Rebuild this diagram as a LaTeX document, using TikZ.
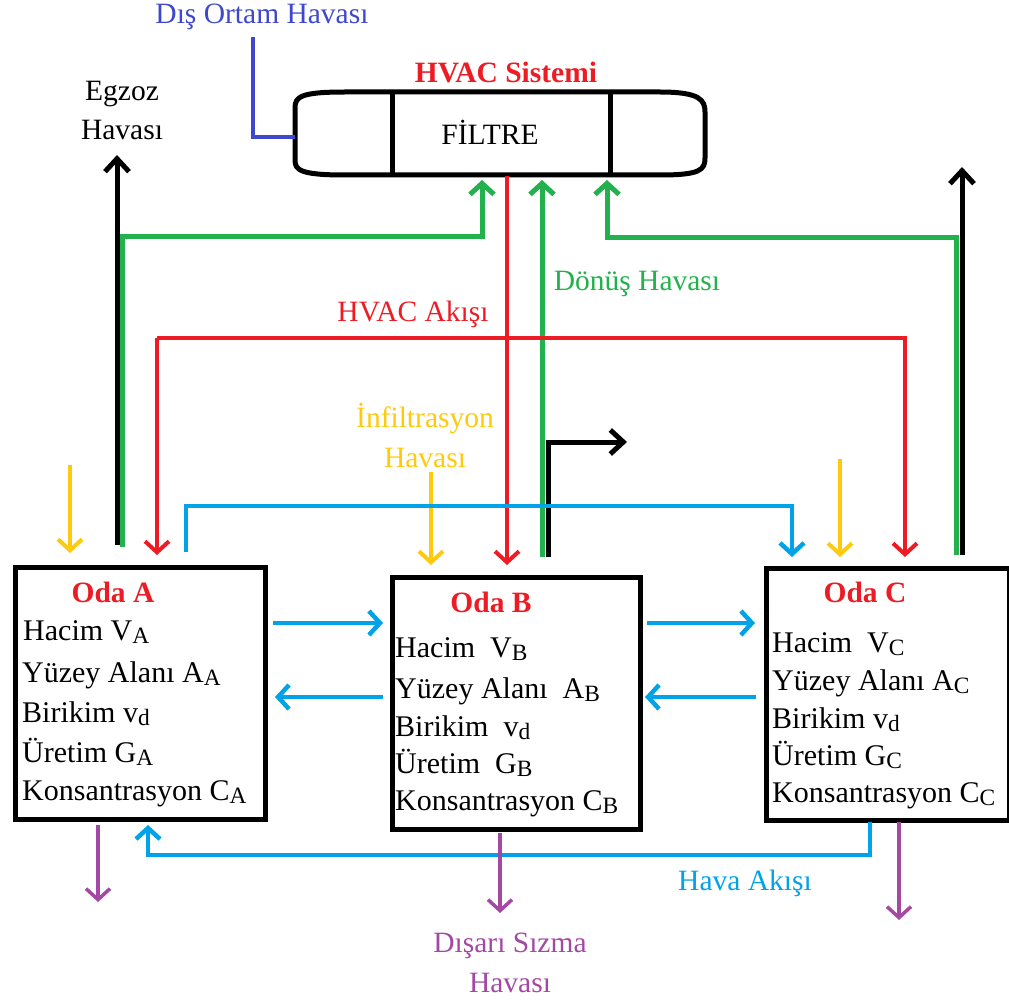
\documentclass[tikz,border=0pt]{standalone}
\usepackage{fontspec}
\setmainfont{Liberation Serif}
\usetikzlibrary{arrows.meta}
\definecolor{hred}{HTML}{ED1C24}
\definecolor{hgreen}{HTML}{22B14C}
\definecolor{hblue}{HTML}{00A2E8}
\definecolor{hyellow}{HTML}{FFC90E}
\definecolor{hpurple}{HTML}{A349A4}
\definecolor{hnavy}{HTML}{3F48CC}
\newcommand{\sbs}[1]{\raisebox{-0.25ex}{\scalebox{0.78}{#1}}}
\begin{document}
\begin{tikzpicture}[x=1pt,y=-1pt,
  every node/.style={font=\fontsize{29.5}{35}\selectfont, inner sep=0pt},
  tip/.style={-{Straight Barb[length=11pt,width=24pt]}},
  roombox/.style={draw=black, line width=5pt, fill=white, anchor=north west, minimum width=#1},
  boxline/.style={anchor=base west, font=\fontsize{30}{35}\selectfont},
  title/.style={font=\fontsize{29.5}{35}\selectfont\bfseries, text=hred},
  blueline/.style={draw=hblue, line width=4.5pt},
  redline/.style={draw=hred, line width=4pt},
  greenline/.style={draw=hgreen, line width=5pt},
  blackline/.style={draw=black, line width=5pt},
  yellowline/.style={draw=hyellow, line width=4pt},
  purpleline/.style={draw=hpurple, line width=3.5pt}
]
\useasboundingbox (0,0) rectangle (1009,1003);

% HVAC unit
\draw[line width=5pt] (345,92) -- (660,92) .. controls (700,92) and (705,100) .. (705,112) -- (705,158) .. controls (705,170) and (700,175) .. (660,175) -- (345,175) .. controls (300,175) and (295,170) .. (295,160) -- (295,108) .. controls (295,97) and (300,92) .. (345,92) -- cycle;
\draw[line width=5pt] (392,92) -- (392,175);
\draw[line width=5pt] (610,92) -- (610,175);
\node (filtre) at (490,132) {FİLTRE};
\node[title] (hvac) at (506,72) {HVAC Sistemi};
\coordinate (hvacL) at (295,137);

% outdoor air
\node[text=hnavy] (dis) at (262,17) {Dış Ortam Havası};
\coordinate (d1) at (253,37);
\draw[draw=hnavy, line width=4pt] (d1) -- (253,137) -- (hvacL);

% exhaust labels
\node (egz1) at (122,94) {Egzoz};
\node (egz2) at (122,130) {Havası};

% coordinates for connectors
\coordinate (exLb) at (117,545);
\coordinate (exLt) at (117,155);
\coordinate (grLb) at (122.5,547);
\coordinate (grLt) at (482,180);
\coordinate (exRb) at (962,555);
\coordinate (exRt) at (962,167);
\coordinate (grRb) at (956.5,555);
\coordinate (grRt) at (607,180);
\coordinate (grMb) at (542,557);
\coordinate (grMt) at (542,180);
\coordinate (exMb) at (548,557);
\coordinate (exMt) at (627,442);
\coordinate (rdT) at (507,176);
\coordinate (rdB) at (507,565);
\coordinate (rdA) at (157,555);
\coordinate (rdC) at (905,557);

% rooms
\node[roombox=250, minimum height=252] (A) at (13,565) {};
\node[roombox=248, minimum height=252] (B) at (390,575) {};
\node[roombox=243, minimum height=252] (C) at (764,566) {};

% green and black exhaust
\draw[greenline, tip] (grLb) -- (122.5,236) -- (482,236) -- (grLt);
\draw[blackline, -{Straight Barb[length=13pt,width=24pt]}] (exLb) -- (exLt);
\draw[greenline, tip] (grRb) -- (956.5,237) -- (607,237) -- (grRt);
\draw[blackline, -{Straight Barb[length=13pt,width=24pt]}] (exRb) -- (exRt);
\draw[greenline, tip] (grMb) -- (grMt);
\draw[blackline, -{Straight Barb[length=13pt,width=24pt]}] (exMb) -- (548,442) -- (exMt);

% red HVAC flow
\draw[redline, tip] (rdT) -- (rdB);
\draw[redline, tip] (157,338) -- (rdA);
\draw[redline, tip] (157,338) -- (905,338) -- (rdC);
\node[text=hred] (hak) at (413,314) {HVAC Akışı};
\node[text=hgreen] (don) at (637,284) {Dönüş Havası};

% infiltration
\node[text=hyellow] (inf1) at (425,419) {İnfiltrasyon};
\node[text=hyellow] (inf2) at (425,458) {Havası};
\coordinate (yA) at (70,465);
\coordinate (yB) at (431,472);
\coordinate (yC) at (840,459);
\draw[yellowline, tip] (yA) -- (70,553);
\draw[yellowline, tip] (yB) -- (431,565);
\draw[yellowline, tip] (yC) -- (840,557);

% blue inter-room flows
\coordinate (bA) at (186,552);
\coordinate (bC) at (792,557);
\draw[blueline, tip] (bA) -- (186,506) -- (792,506) -- (bC);
\draw[blueline, tip] (273,623) -- (383,623);
\draw[blueline, tip] (383,697) -- (275,697);
\draw[blueline, tip] (647,623) -- (755,623);
\draw[blueline, tip] (756,697) -- (645,697);
\coordinate (bCb) at (870,822);
\coordinate (bAb) at (148,825);
\draw[blueline, tip] (bCb) -- (870,855) -- (148,855) -- (bAb);
\node[text=hblue] (hava) at (745,883) {Hava Akışı};

% exfiltration
\draw[purpleline, tip] (98,825) -- (98,902);
\draw[purpleline, tip] (500,833) -- (500,913);
\draw[purpleline, tip] (899,822) -- (899,920);
\node[text=hpurple] (dsz1) at (510,946) {Dışarı Sızma};
\node[text=hpurple] (dsz2) at (510,983) {Havası};

% room texts
\node[title, anchor=base] (tA) at (113,602) {Oda A};
\node[boxline] (a1) at (23,640) {Hacim V\sbs{A}};
\node[boxline] (a2) at (22,682) {Yüzey Alanı\ A\sbs{A}};
\node[boxline] (a3) at (22,722) {Birikim\ v\sbs{d}};
\node[boxline] (a4) at (22,762) {Üretim G\sbs{A}};
\node[boxline] (a5) at (22,800) {Konsantrasyon C\sbs{A}};

\node[title, anchor=base] (tB) at (491,612) {Oda B};
\node[boxline] (b1) at (395,657) {Hacim\ \ V\sbs{B}};
\node[boxline] (b2) at (395,698) {Yüzey Alanı\ \ A\sbs{B}};
\node[boxline] (b3) at (395,736) {Birikim\ \ v\sbs{d}};
\node[boxline] (b4) at (395,773) {Üretim\ \ G\sbs{B}};
\node[boxline] (b5) at (395,810) {Konsantrasyon C\sbs{B}};

\node[title, anchor=base] (tC) at (865,602) {Oda C};
\node[boxline] (c1) at (772,652) {Hacim\ \ V\sbs{C}};
\node[boxline] (c2) at (772,690) {Yüzey Alanı\ A\sbs{C}};
\node[boxline] (c3) at (772,728) {Birikim v\sbs{d}};
\node[boxline] (c4) at (772,765) {Üretim G\sbs{C}};
\node[boxline] (c5) at (772,802) {Konsantrasyon C\sbs{C}};
\end{tikzpicture}
\end{document}
